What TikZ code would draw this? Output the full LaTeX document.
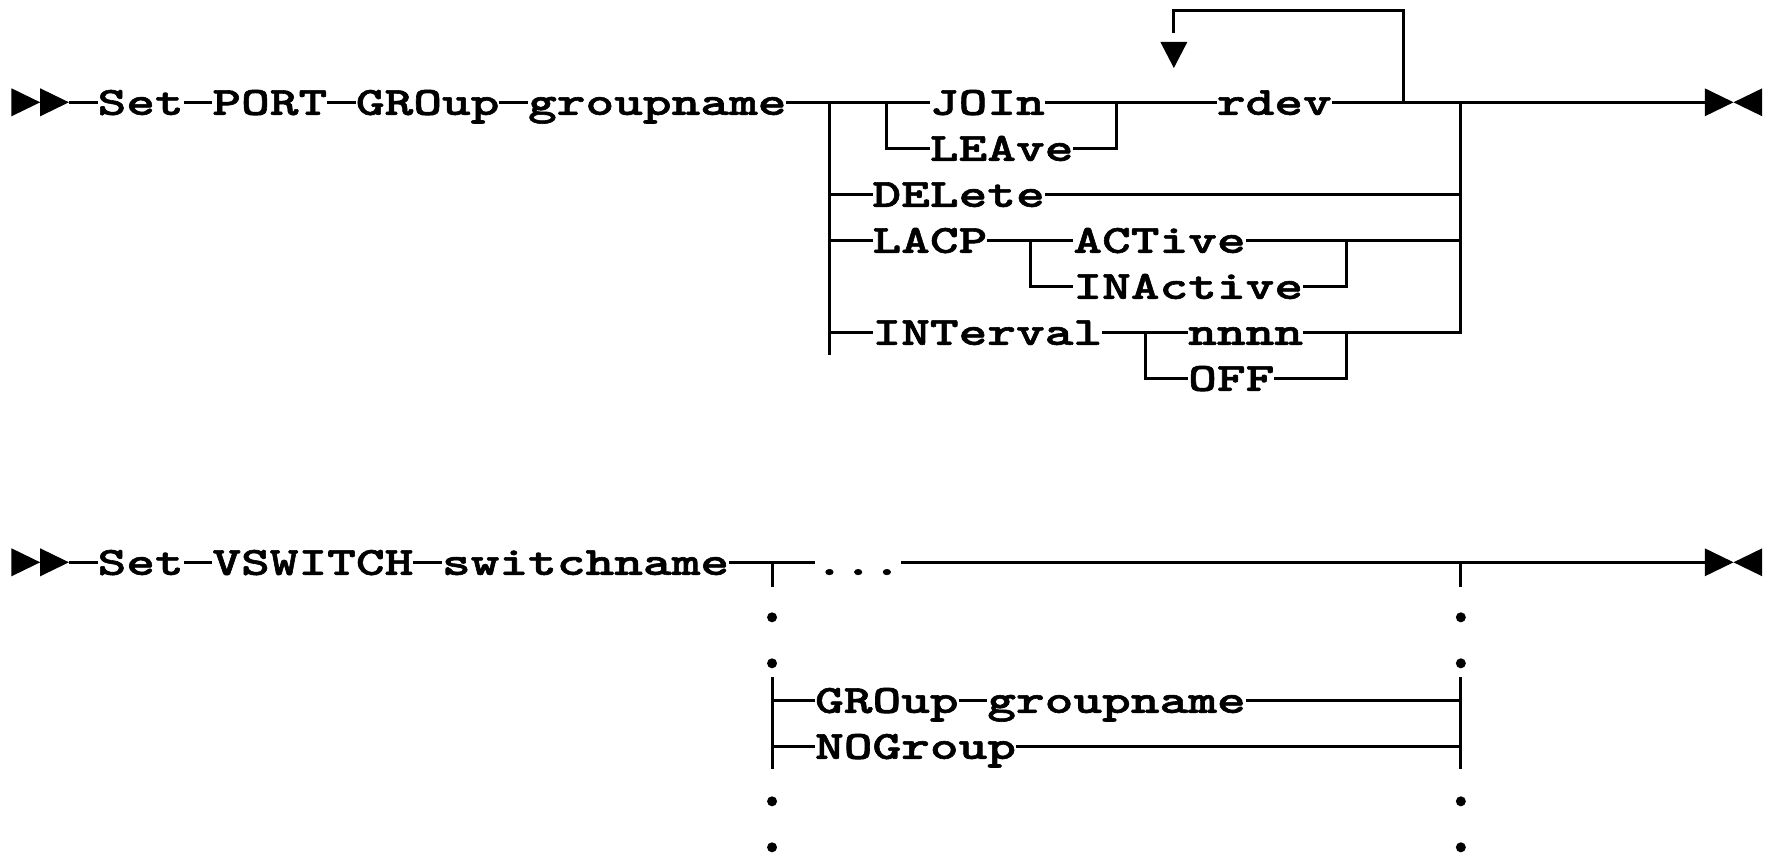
\documentclass[tikz,border=0pt]{standalone}
\usepackage{fontspec}
\newfontfamily\rrfont{lmmonolt10-bold.otf}[FakeStretch=1.367, FakeBold=1.5]
\tikzset{
  lbl/.style={anchor=base west, inner sep=0pt, outer sep=0pt, fill=white,
    text height=30pt, text depth=8pt, font=\rrfont\fontsize{40}{40}\selectfont},
  rail/.style={line width=3pt, line join=miter},
  cdot/.style={fill=black}
}
\begin{document}
\begin{tikzpicture}[x=28.7pt, y=-46pt]
\useasboundingbox (-11.5pt,102.3pt) rectangle (1759.5pt,-750.7pt);
% ---------- diagram 1 rails ----------
\coordinate (a0) at (2,0);
\coordinate (a1) at (59,0);
\draw[rail] (a0) -- (a1);
\draw[rail] (28.5,0) -- (28.5,5.5);
\draw[rail] (30.5,0) -- (30.5,1) -- (38.5,1) -- (38.5,0);
\draw[rail] (28.5,2) -- (50.5,2);
\draw[rail] (28.5,3) -- (50.5,3);
\draw[rail] (35.5,3) -- (35.5,4) -- (46.5,4) -- (46.5,3);
\draw[rail] (28.5,5) -- (50.5,5) -- (50.5,0);
\draw[rail] (39.5,5) -- (39.5,6) -- (46.5,6) -- (46.5,5);
\draw[rail] (40.5,-1.5) -- (40.5,-2) -- (48.5,-2) -- (48.5,0);
\fill (40.03,-1.311) -- (40.97,-1.311) -- (40.5,-0.746) -- cycle;
% start / end marks
\fill (0,-0.304) -- (1,0) -- (0,0.304) -- cycle;
\fill (1,-0.304) -- (2,0) -- (1,0.304) -- cycle;
\fill (59,-0.304) -- (60,0) -- (59,0.304) -- cycle;
\fill (61,-0.304) -- (60,0) -- (61,0.304) -- cycle;
% ---------- diagram 2 rails ----------
\coordinate (b0) at (2,10);
\coordinate (b1) at (59,10);
\draw[rail] (b0) -- (b1);
\draw[rail] (26.5,10) -- (26.5,10.53);
\draw[rail] (50.5,10) -- (50.5,10.53);
\draw[rail] (26.5,12.5) -- (26.5,14.5);
\draw[rail] (50.5,12.5) -- (50.5,14.5);
\draw[rail] (26.5,13) -- (50.5,13);
\draw[rail] (26.5,14) -- (50.5,14);
\foreach \r in {11,12,15,16}{
  \fill[cdot] (26.5,\r+0.196) circle (5pt);
  \fill[cdot] (50.5,\r+0.196) circle (5pt);
}
\fill (0,9.696) -- (1,10) -- (0,10.304) -- cycle;
\fill (1,9.696) -- (2,10) -- (1,10.304) -- cycle;
\fill (59,9.696) -- (60,10) -- (59,10.304) -- cycle;
\fill (61,9.696) -- (60,10) -- (61,10.304) -- cycle;
% ---------- labels diagram 1 ----------
\node[lbl] (set1) at (3,0.272) {Set};
\node[lbl] (port) at (7,0.272) {PORT};
\node[lbl] (grp1) at (12,0.272) {GROup};
\node[lbl] (gname1) at (18,0.272) {groupname};
\node[lbl] (join) at (32,0.272) {JOIn};
\node[lbl] (rdev) at (42,0.272) {rdev};
\node[lbl] (leave) at (32,1.272) {LEAve};
\node[lbl] (delete) at (30,2.272) {DELete};
\node[lbl] (lacp) at (30,3.272) {LACP};
\node[lbl] (active) at (37,3.272) {ACTive};
\node[lbl] (inactive) at (37,4.272) {INActive};
\node[lbl] (interval) at (30,5.272) {INTerval};
\node[lbl] (nnnn) at (41,5.272) {nnnn};
\node[lbl] (off) at (41,6.272) {OFF};
% ---------- labels diagram 2 ----------
\node[lbl] (set2) at (3,10.272) {Set};
\node[lbl] (vsw) at (7,10.272) {VSWITCH};
\node[lbl] (sname) at (15,10.272) {switchname};
\node[lbl] (ell) at (28,10.272) {...};
\node[lbl] (grp2) at (28,13.272) {GROup};
\node[lbl] (gname2) at (34,13.272) {groupname};
\node[lbl] (nogrp) at (28,14.272) {NOGroup};
\end{tikzpicture}
\end{document}
